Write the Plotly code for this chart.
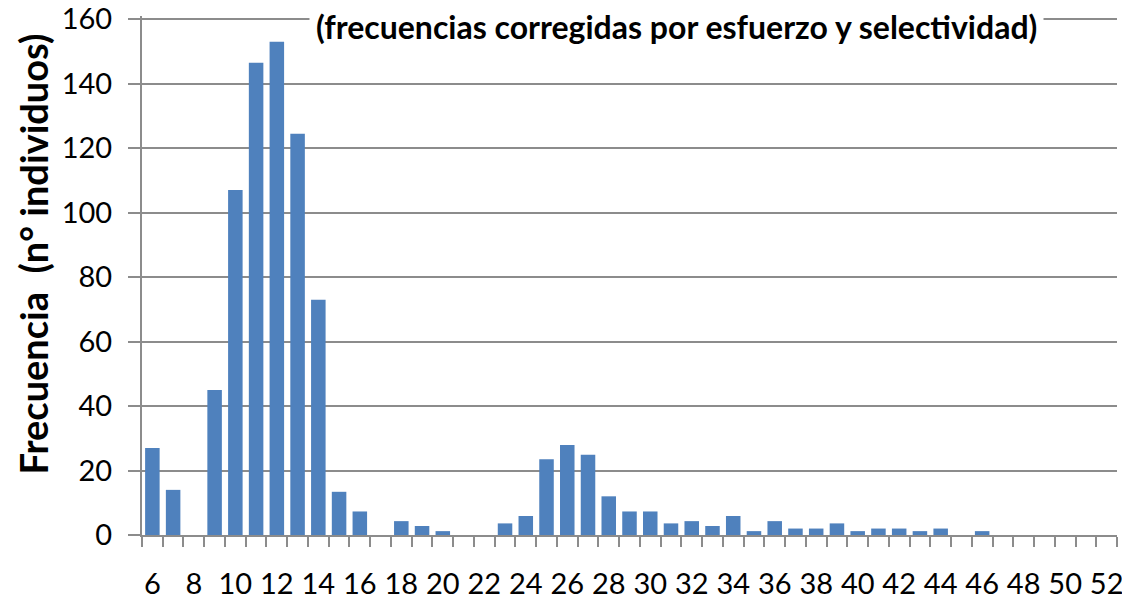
import plotly.graph_objects as go

# talla (cm) y frecuencia corregida
tallas = list(range(6, 53))
frecuencia = [27, 14, 0, 45, 107, 146.5, 153, 124.5, 73, 13.4, 7.3, 0, 4.3, 2.8, 1.2,
              0, 0, 3.6, 5.9, 23.5, 27.9, 24.9, 12, 7.3, 7.3, 3.6, 4.3, 2.8, 5.9,
              1.2, 4.3, 2, 2, 3.6, 1.2, 2, 2, 1.2, 2, 0, 1.2, 0, 0, 0, 0, 0, 0]
etiquetas_x = list(range(6, 53, 2))
etiquetas_y = list(range(0, 161, 20))

titulo = "(frecuencias corregidas por esfuerzo y selectividad)"
titulo_y = "Frecuencia  (n° individuos)"

gris = "#8c8c8c"
fuente = "Lato"
y_max = 161

fig = go.Figure(go.Bar(
    x=tallas,
    y=frecuencia,
    marker=dict(color="#4F81BD", line=dict(width=0)),
    width=0.7,
))

# la página añade 8 px de margen al cuerpo: se compensa aquí
fig.update_layout(
    width=1122, height=592,
    margin=dict(l=134, r=13, t=7.8, b=65),
    plot_bgcolor="white", paper_bgcolor="white",
    showlegend=False,
    font=dict(family=fuente, color="black"),
    xaxis=dict(
        range=[5.5, 52.5],
        tickvals=etiquetas_x,
        ticks="",
        tickfont=dict(size=29),
        ticklabelstandoff=22,
        showgrid=False,
        showline=True, linecolor=gris, linewidth=2,
        automargin=False,
        minor=dict(ticks="outside", tick0=5.5, dtick=1, ticklen=10,
                   tickcolor=gris, tickwidth=2, showgrid=False),
    ),
    yaxis=dict(
        range=[0, y_max],
        tickvals=etiquetas_y,
        ticks="outside", ticklen=12, tickcolor=gris, tickwidth=2,
        tickfont=dict(size=29),
        ticklabelstandoff=10,
        ticklabeloverflow="allow",
        showgrid=True, gridcolor=gris, gridwidth=2,
        zeroline=False,
        showline=True, linecolor=gris, linewidth=2,
        automargin=False,
    ),
    annotations=[
        dict(text=titulo, xref="paper", yref="y", x=(676 - 142) / 975, y=160,
             xanchor="center", yanchor="middle", yshift=-7, showarrow=False,
             font=dict(size=32, family=fuente, weight="bold"),
             bgcolor="white", borderpad=6),
        dict(text=titulo_y, xref="paper", yref="y", x=0, y=87,
             xanchor="center", yanchor="middle", xshift=-109, textangle=-90,
             showarrow=False, font=dict(size=38, family=fuente, weight="bold")),
    ],
)

fig.write_html("out.html")
